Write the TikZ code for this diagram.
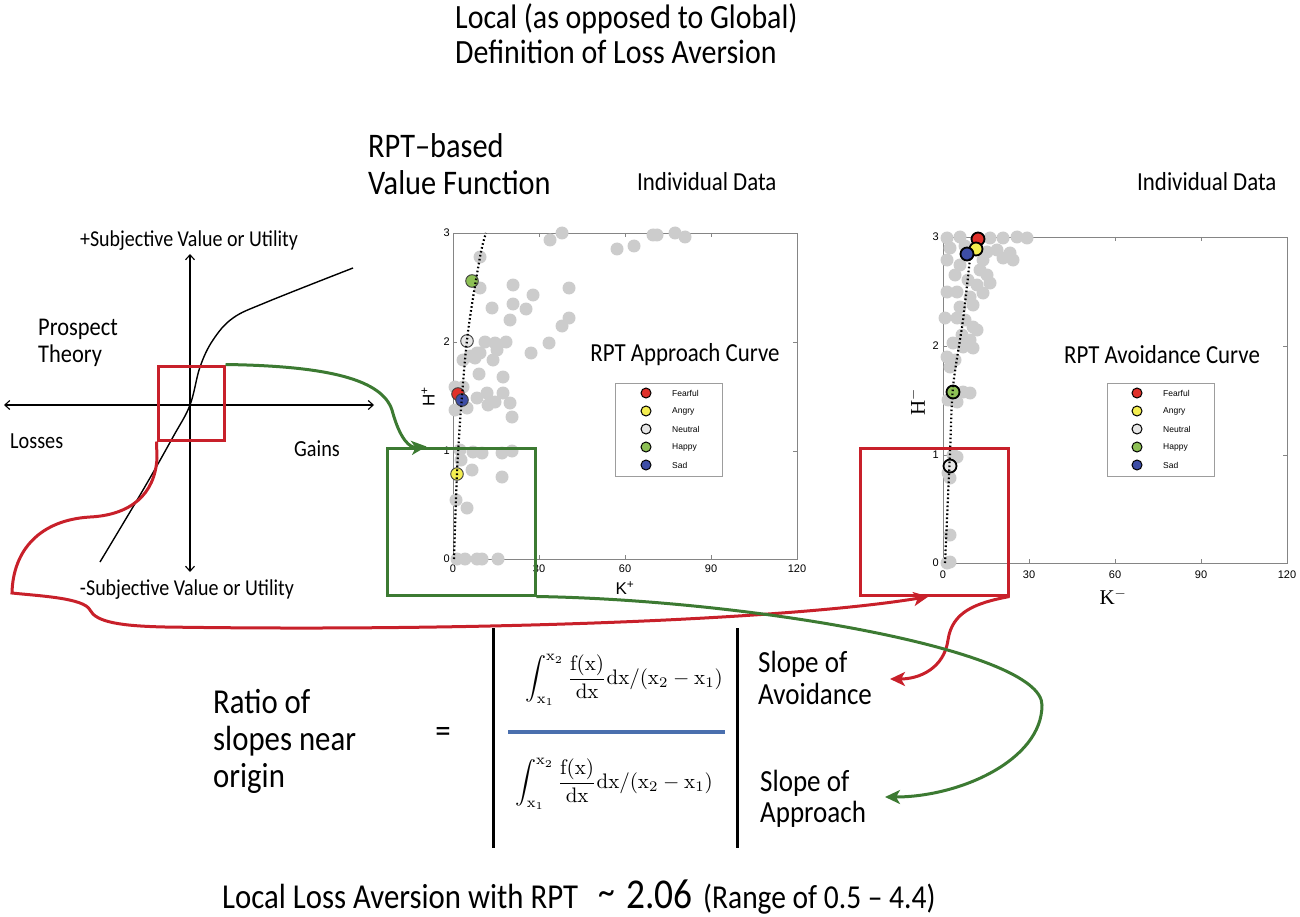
\documentclass[tikz,border=0pt]{standalone}
\usepackage[no-math]{fontspec}
\setmainfont{Carlito}[FakeStretch=0.88]
\newfontfamily\arialf{Liberation Sans}
\newfontfamily\timesf{Liberation Serif}
\usetikzlibrary{arrows.meta,calc}
\definecolor{myred}{HTML}{C8202A}
\definecolor{mygreen}{HTML}{3C7A32}
\definecolor{myblue}{HTML}{4A6FAE}
\definecolor{dotgray}{HTML}{CCCCCC}
\definecolor{framegray}{HTML}{858585}
\definecolor{cfear}{HTML}{E0302A}
\definecolor{cangry}{HTML}{F4EE50}
\definecolor{cneutral}{HTML}{E6E6E6}
\definecolor{chappy}{HTML}{8DC055}
\definecolor{csad}{HTML}{3D4DA6}
\newcommand{\slopeformula}{\scalebox{2.1}{$\displaystyle\int_{\mathrm{x_1}}^{\mathrm{x_2}}\frac{\mathrm{f(x)}}{\mathrm{dx}}\mathrm{dx}/(\mathrm{x_2}-\mathrm{x_1})$}}
\tikzset{
  fs/.style={font=\fontsize{#1}{#1}\selectfont},
  txt/.style={inner sep=0pt, anchor=base west},
  ctxt/.style={inner sep=0pt, anchor=base},
  ticklbl/.style={inner sep=0pt, font=\arialf\fontsize{11}{12}\selectfont},
  legtxt/.style={inner sep=0pt, anchor=west, font=\arialf\fontsize{8.5}{10}\selectfont},
  legbox/.style={draw=framegray!80, fill=white, line width=0.8pt},
  frame/.style={draw=framegray, line width=0.9pt},
  tck/.style={framegray, line width=0.8pt},
  redbox/.style={draw=myred, line width=3pt, inner sep=0pt},
  greenbox/.style={draw=mygreen, line width=3pt, inner sep=0pt},
  redarrow/.style={draw=myred, line width=3pt, -{Stealth[length=15pt,width=14pt,inset=4pt]}},
  greenarrow/.style={draw=mygreen, line width=3pt, -{Stealth[length=15pt,width=14pt,inset=4pt]}},
  axisarrow/.style={draw=black, line width=1.1pt, {Straight Barb[length=5pt,width=9pt]}-{Straight Barb[length=5pt,width=9pt]}},
  dline/.style={draw=black, line width=2.2pt, dash pattern=on 1.6pt off 2.4pt},
  emo/.style={line width=0.9pt, draw=black!75},
  emob/.style={line width=1.8pt, draw=black},
}
\begin{document}
\begin{tikzpicture}[x=1pt,y=-1pt]
\useasboundingbox (0,0) rectangle (1300,917);

% ---- titles
\node[txt, fs=34] (title1) at (455,29) {Local (as opposed to Global)};
\node[txt, fs=34] (title2) at (455,64) {Definition of Loss Aversion};
\node[txt, fs=34.5] (rpt1) at (368,158) {RPT–based};
\node[txt, fs=34.5] (rpt2) at (368,195) {Value Function};
\node[txt, fs=26] (ind1) at (637,191) {Individual Data};
\node[txt, fs=26] (ind2) at (1137,191) {Individual Data};

% ---- prospect theory
\draw[axisarrow] (190,254) -- (190,572);
\draw[axisarrow] (4,405) -- (374,405);
\draw[black, line width=1.4pt] plot[smooth, tension=0.6] coordinates {(100,562) (143,490) (173,437) (190,405) (200,367) (213,340) (233,318) (267,302) (353,268)};
\node[ctxt, fs=22.7] (psv) at (189,247) {+Subjective Value or Utility};
\node[ctxt, fs=22.7] (nsv) at (187,595) {-Subjective Value or Utility};
\node[txt, fs=25.5] (pt1) at (38,335) {Prospect};
\node[txt, fs=25.5] (pt2) at (38,362) {Theory};
\node[txt, fs=23] (loss) at (10,448) {Losses};
\node[txt, fs=23] (gain) at (294,456) {Gains};

% ---- left plot
\draw[frame] (453,233) rectangle (797,559);
\foreach \x in {539,625,711} {\draw[tck] (\x,559) -- (\x,555); \draw[tck] (\x,233) -- (\x,237);}
\foreach \y in {342,451} {\draw[tck] (453,\y) -- (457,\y); \draw[tck] (797,\y) -- (793,\y);}
\foreach \v/\x in {0/453,30/539,60/625,90/711,120/797} \node[ticklbl] (lx\v) at (\x,569) {\v};
\foreach \v/\y in {0/559,1/451,2/342,3/233} \node[ticklbl, anchor=east] (ly\v) at (450,\y) {\v};
\node[inner sep=0, rotate=90, font=\arialf\fontsize{17}{18}\selectfont] (lH) at (428,397) {H\textsuperscript{+}};
\node[inner sep=0, font=\arialf\fontsize{17}{18}\selectfont] (lK) at (625,588) {K\textsuperscript{+}};
\foreach \x/\y in {550/240,562/233,617/249,634/246,653/235,657/235,675/233,685/237,480/257,
  480/288,513/285,533/295,569/288,492/308,513/304,526/309,510/320,569/318,562/326,549/343,531/353,
  485/342,495/343,506/342,477/353,470/356,497/350,493/360,463/360,475/358,480/353,
  479/374,503/377,455/387,463/387,
  477/398,487/393,488/405,495/402,503/393,510/403,455/410,467/408,512/417,
  460/450,473/452,482/453,502/453,512/451,461/460,472/470,502/477,456/500,467/508,
  457/559,465/559,477/559,482/559,498/559}
  \fill[dotgray] (\x,\y) circle (6.5);
\filldraw[emo, fill=cfear] (458,394) circle (6.3);
\filldraw[emo, fill=csad] (462,400) circle (6.3);
\filldraw[emo, fill=chappy] (472,281) circle (6.3);
\filldraw[emo, fill=cneutral] (467,341) circle (6.3);
\filldraw[emo, fill=cangry] (457,474) circle (6.3);
\draw[dline] plot[smooth] coordinates {(454,559) (458,453) (467,340) (480,257) (486,233)};
\node[inner sep=0, fs=26] (lcurve) at (685,355) {RPT Approach Curve};
\draw[legbox] (615,383) rectangle (722,476);
\foreach \c/\t/\k in {cfear/Fearful/0,cangry/Angry/1,cneutral/Neutral/2,chappy/Happy/3,csad/Sad/4} {
  \filldraw[line width=1pt, draw=black, fill=\c] (646,393+18*\k) circle (5);
  \node[legtxt] (ll\k) at (672,393+18*\k) {\t};
}

% ---- right plot
\draw[frame] (943,237) rectangle (1287,563);
\foreach \x in {1029,1115,1201} {\draw[tck] (\x,563) -- (\x,559); \draw[tck] (\x,237) -- (\x,241);}
\foreach \y in {346,455} {\draw[tck] (943,\y) -- (947,\y); \draw[tck] (1287,\y) -- (1283,\y);}
\foreach \v/\x in {0/943,30/1029,60/1115,90/1201,120/1287} \node[ticklbl] (rx\v) at (\x,575) {\v};
\foreach \v/\y in {0/563,1/455,2/346,3/237} \node[ticklbl, anchor=east] (ry\v) at (939,\y) {\v};
\node[inner sep=0, rotate=90, font=\timesf\fontsize{21}{22}\selectfont] (rH) at (917,402) {H$^{-}$};
\node[inner sep=0, font=\timesf\fontsize{21}{22}\selectfont] (rK) at (1113,597) {K$^{-}$};
\foreach \x/\y in {947/238,960/237,990/238,1003/238,1017/237,1027/238,
  950/248,987/252,997/250,1010/253,965/246,
  947/260,983/260,1003/258,1013/260,960/265,968/280,955/275,
  980/270,987/275,977/285,990/283,
  947/292,957/292,970/297,983/293,
  960/307,973/305,
  945/318,957/318,965/320,977/330,973/327,
  962/335,970/340,963/347,973/348,953/343,
  947/357,955/360,950/367,
  953/393,963/392,970/393,
  948/400,957/402,
  953/455,957/457,948/473,950/478,
  950/535,947/563,950/562}
  \fill[dotgray] (\x,\y) circle (6.5);
\filldraw[emob, fill=cfear] (978,239) circle (6.5);
\filldraw[emob, fill=cangry] (976,249) circle (6.5);
\filldraw[emob, fill=csad] (967,254) circle (6.5);
\filldraw[emob, fill=chappy] (953,392) circle (6.5);
\filldraw[emob, fill=cneutral] (950,466) circle (6.5);
\draw[dline] plot[smooth] coordinates {(945,563) (950,453) (953,387) (963,320) (970,258)};
\node[inner sep=0, fs=26] (rcurve) at (1162,355) {RPT Avoidance Curve};
\draw[legbox] (1107,383) rectangle (1214,476);
\foreach \c/\t/\k in {cfear/Fearful/0,cangry/Angry/1,cneutral/Neutral/2,chappy/Happy/3,csad/Sad/4} {
  \filldraw[line width=1pt, draw=black, fill=\c] (1137,393+18*\k) circle (5);
  \node[legtxt] (rl\k) at (1163,393+18*\k) {\t};
}

% ---- highlight boxes
\node[redbox, minimum width=66, minimum height=74] (ptbox) at (191,403) {};
\node[greenbox, minimum width=148, minimum height=147] (gbox) at (461,521.5) {};
\node[redbox, minimum width=148, minimum height=147] (abox) at (934,521.5) {};

% ---- formula
\draw[black, line width=3pt] (493,628) -- (493,848);
\draw[black, line width=3pt] (737,628) -- (737,848);
\draw[myblue, line width=4pt] (508,732) -- (725,732);
\node[inner sep=0, font=\fontsize{10}{12}\selectfont] (fup) at (624,680) {\slopeformula};
\node[inner sep=0, font=\fontsize{10}{12}\selectfont] (fdn) at (614,784) {\slopeformula};
\node[inner sep=0, fs=35] (eq) at (443,735) {=};
\node[txt, fs=35] (r1) at (213,713) {Ratio of};
\node[txt, fs=35] (r2) at (213,750) {slopes near};
\node[txt, fs=35] (r3) at (213,787) {origin};
\node[txt, fs=30.7] (sa1) at (758,672) {Slope of};
\node[txt, fs=30.7] (sa2) at (758,704) {Avoidance};
\node[txt, fs=30.7] (sp1) at (760,791) {Slope of};
\node[txt, fs=30.7] (sp2) at (760,822) {Approach};
\coordinate (avtip) at (890,679);
\coordinate (aptip) at (885,797);

% ---- bottom line
\node[txt, fs=35] (bot1) at (222,908) {Local Loss Aversion with RPT};
\node[txt, fs=38] (bot2) at (598,908) {\raisebox{4pt}{\char`\~}};
\node[txt, fs=42.5] (bot3) at (626,908) {2.06};
\node[txt, fs=33.5] (bot4) at (703,908) {(Range of 0.5 – 4.4)};

% ---- connectors
\draw[greenarrow] (ptbox.north east) .. controls (330,366) and (382,380) .. (392,410)
  .. controls (400,440) and (410,448) .. ($(gbox.north west)+(41,0)$);
\draw[redarrow] (ptbox.south west) -- (157,458) .. controls (155,495) and (130,515) .. (90,517)
  .. controls (40,520) and (13,550) .. (12,593)
  .. controls (40,596) and (84,598) .. (90,610)
  .. controls (96,622) and (120,626) .. (165,627)
  .. controls (500,632) and (800,618) .. ($(abox.south west)+(70,0)$);
\draw[redarrow] (abox.south east) .. controls (975,603) and (952,612) .. (948,640)
  .. controls (944,668) and (920,679) .. (avtip);
\draw[greenarrow] (gbox.south east) .. controls (750,600) and (1042,650) .. (1042,705)
  .. controls (1042,760) and (960,797) .. (aptip);
\end{tikzpicture}
\end{document}
